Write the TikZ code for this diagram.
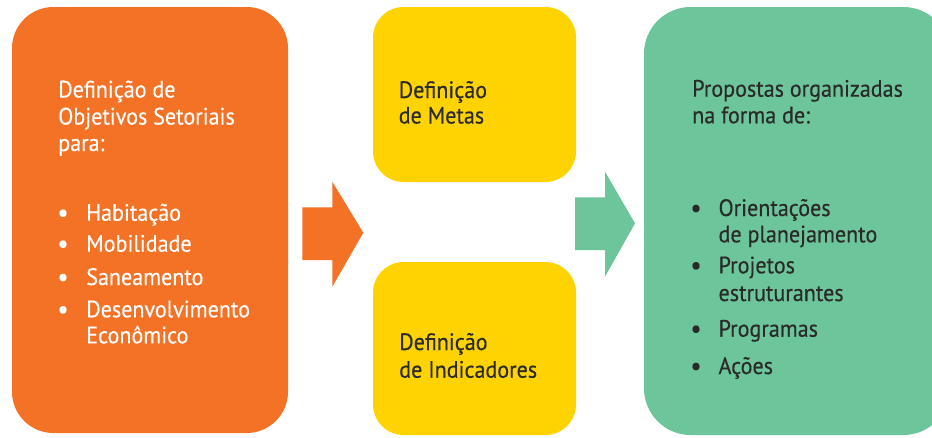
\documentclass[tikz,border=0pt]{standalone}
\usepackage{fontspec}
\setmainfont[FakeStretch=0.93,FakeBold=0.35]{PT Sans}
\begin{document}
\begin{tikzpicture}[x=0.75pt,y=-0.75pt,
  box/.style={rectangle,inner sep=0pt,draw=none},
  txt/.style={anchor=base west,inner sep=0pt,font=\fontsize{17.8pt}{20pt}\selectfont},
  bul/.style={anchor=base,inner sep=0pt,font=\fontsize{20pt}{20pt}\selectfont},
  wtxt/.style={txt,text=white},
  wbul/.style={bul,text=white},
  dtxt/.style={txt,text=textdark},
  dbul/.style={bul,text=textdark}]
\definecolor{orangebox}{HTML}{F37225}
\definecolor{yellowbox}{HTML}{FFD300}
\definecolor{greenbox}{HTML}{6DC59B}
\definecolor{textdark}{HTML}{2A2A28}
\useasboundingbox (0,0) rectangle (932,437);
\fill[white] (0,0) rectangle (932,437);
% boxes
\node[box,fill=orangebox,minimum width=207pt,minimum height=319.5pt,rounded corners=31pt] (obox) at (150,220) {};
\node[box,fill=yellowbox,minimum width=152.25pt,minimum height=131.25pt,rounded corners=23pt] (ytop) at (474.5,94.5) {};
\node[box,fill=yellowbox,minimum width=152.25pt,minimum height=129.75pt,rounded corners=23pt] (ybot) at (474.5,348.5) {};
\node[box,fill=greenbox,minimum width=229.5pt,minimum height=321pt,rounded corners=35pt] (gbox) at (797,221) {};
% arrows
\fill[orangebox] (302.3,207.3) -- (332.3,207.3) -- (332.3,181.7) -- (363.3,232.7) -- (332.3,286.7) -- (332.3,260) -- (302.3,260) -- cycle;
\fill[greenbox] (575,197.3) -- (605,197.3) -- (605,171.7) -- (635,223.3) -- (605,276.7) -- (605,250) -- (575,250) -- cycle;
% orange text
\node[wtxt] (o1) at (58,97.5) {Definição de};
\node[wtxt] (o2) at (58,124.5) {Objetivos Setoriais};
\node[wtxt] (o3) at (58,151) {para:};
\node[wbul] (ob1) at (63,221.5) {•};
\node[wtxt] (oi1) at (86,220.7) {Habitação};
\node[wbul] (ob2) at (63,252.5) {•};
\node[wtxt] (oi2) at (86,251.7) {Mobilidade};
\node[wbul] (ob3) at (63,285.8) {•};
\node[wtxt] (oi3) at (86,285) {Saneamento};
\node[wbul] (ob4) at (63,318.1) {•};
\node[wtxt] (oi4) at (86,317.3) {Desenvolvimento};
\node[wtxt] (oi4b) at (86,343.3) {Econômico};
% yellow text
\node[dtxt] (y1) at (398.5,98) {Definição};
\node[dtxt] (y2) at (398.5,123.5) {de Metas};
\node[dtxt] (y3) at (399,350) {Definição};
\node[dtxt] (y4) at (399,377.7) {de Indicadores};
% green text
\node[dtxt] (g1) at (692,96.7) {Propostas organizadas};
\node[dtxt] (g2) at (692,123.3) {na forma de:};
\node[dbul] (gb1) at (696,216.8) {•};
\node[dtxt] (gi1) at (718.3,216) {Orientações};
\node[dtxt] (gi1b) at (718.3,242.3) {de planejamento};
\node[dbul] (gb2) at (696,274.1) {•};
\node[dtxt] (gi2) at (718.3,273.3) {Projetos};
\node[dtxt] (gi2b) at (718.3,301) {estruturantes};
\node[dbul] (gb3) at (696,337.5) {•};
\node[dtxt] (gi3) at (718.3,336.7) {Programas};
\node[dbul] (gb4) at (696,374.8) {•};
\node[dtxt] (gi4) at (718.3,374) {Ações};
\end{tikzpicture}
\end{document}
